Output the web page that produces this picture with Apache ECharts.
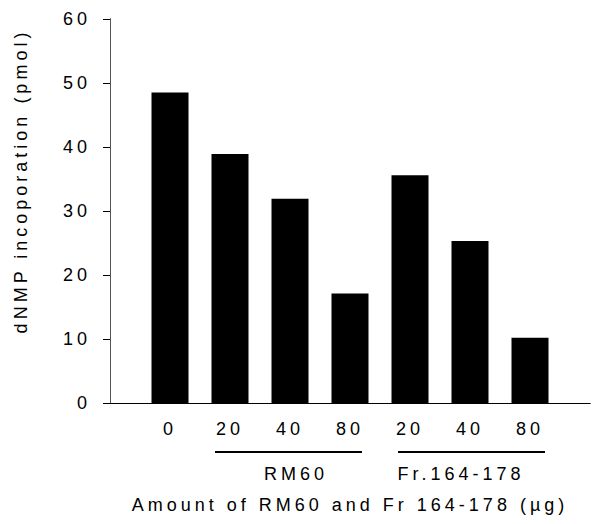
<!DOCTYPE html>
<html>
<head>
<meta charset="utf-8">
<script src="https://cdn.jsdelivr.net/npm/echarts@6/dist/echarts.min.js"></script>
<style>
  html, body { margin: 0; padding: 0; background: #fff; }
  #chart { width: 593px; height: 524px; }
  /* the scanned figure has wide letter spacing */
  #chart text { letter-spacing: 4px; }
</style>
</head>
<body>
<div id="chart"></div>
<script>
  // bar labels under each bar
  var xLabels = ['0', '20', '40', '80', '20', '40', '80'];
  // dNMP incorporation (pmol)
  var values = [48.5, 38.9, 31.9, 17.1, 35.6, 25.3, 10.2];
  var yTicks = [0, 10, 20, 30, 40, 50, 60];
  // groups under the axis
  var groupNames = ['RM60', 'Fr.164-178'];
  var groupSpans = [[1.75, 4.2], [4.8, 7.25]];
  var groupLabelAt = [3.1, 5.85];

  var font = '"Liberation Sans", Arial, sans-serif';
  var myChart = echarts.init(document.getElementById('chart'), null, { renderer: 'svg' });

  var option = {
    animation: false,
    grid: { left: 110, right: 1, top: 19, bottom: 121 },
    xAxis: [{
      type: 'value',
      min: 0,
      max: 8,
      interval: 1,
      splitLine: { show: false },
      axisTick: { show: false },
      axisLine: { lineStyle: { color: '#000', width: 1 } },
      axisLabel: {
        margin: 17,
        color: '#000',
        fontSize: 18,
        fontFamily: font,
        formatter: function (v) {
          return (Number.isInteger(v) && v >= 1 && v <= xLabels.length) ? xLabels[v - 1] : '';
        }
      },
      name: 'Amount of RM60 and Fr 164-178 (\u00b5g)',
      nameLocation: 'middle',
      nameGap: 93,
      nameTextStyle: { color: '#000', fontSize: 18, fontFamily: font }
    }, {
      type: 'value',
      position: 'top',
      min: 0,
      max: 8,
      axisLine: { show: true, lineStyle: { color: '#000', width: 1 } },
      axisTick: { show: false },
      axisLabel: { show: false },
      splitLine: { show: false }
    }],
    yAxis: [{
      type: 'value',
      min: yTicks[0],
      max: yTicks[yTicks.length - 1],
      interval: 10,
      splitLine: { show: false },
      axisLine: { show: true, lineStyle: { color: '#000', width: 1 } },
      axisTick: { show: true, length: 7, lineStyle: { color: '#000' } },
      axisLabel: { margin: 19, color: '#000', fontSize: 18, fontFamily: font },
      name: 'dNMP incoporation (pmol)',
      nameLocation: 'middle',
      nameGap: 80,
      nameTextStyle: { color: '#000', fontSize: 18, fontFamily: font, padding: [0, 0, 0, 60] }
    }, {
      type: 'value',
      position: 'right',
      min: 0,
      max: 60,
      axisLine: { show: true, lineStyle: { color: '#555', width: 1 } },
      axisTick: { show: false },
      axisLabel: { show: false },
      splitLine: { show: false }
    }],
    series: [{
      type: 'bar',
      barWidth: 37,
      itemStyle: { color: '#000' },
      data: values.map(function (v, i) { return [i + 1, v]; })
    }]
  };
  myChart.setOption(option);

  // group underlines + labels, placed through the x axis scale
  var lineY = 452, labelY = 474;
  var graphics = [];
  groupNames.forEach(function (name, i) {
    var x1 = myChart.convertToPixel({ xAxisIndex: 0 }, groupSpans[i][0]);
    var x2 = myChart.convertToPixel({ xAxisIndex: 0 }, groupSpans[i][1]);
    graphics.push({
      type: 'line',
      shape: { x1: x1, y1: lineY, x2: x2, y2: lineY },
      style: { stroke: '#000', lineWidth: 2 }
    });
    graphics.push({
      type: 'text',
      x: myChart.convertToPixel({ xAxisIndex: 0 }, groupLabelAt[i]),
      y: labelY,
      style: {
        text: name, fill: '#000', font: '18px ' + font,
        textAlign: 'center', textVerticalAlign: 'middle'
      }
    });
  });
  myChart.setOption({ graphic: graphics });
</script>
</body>
</html>
